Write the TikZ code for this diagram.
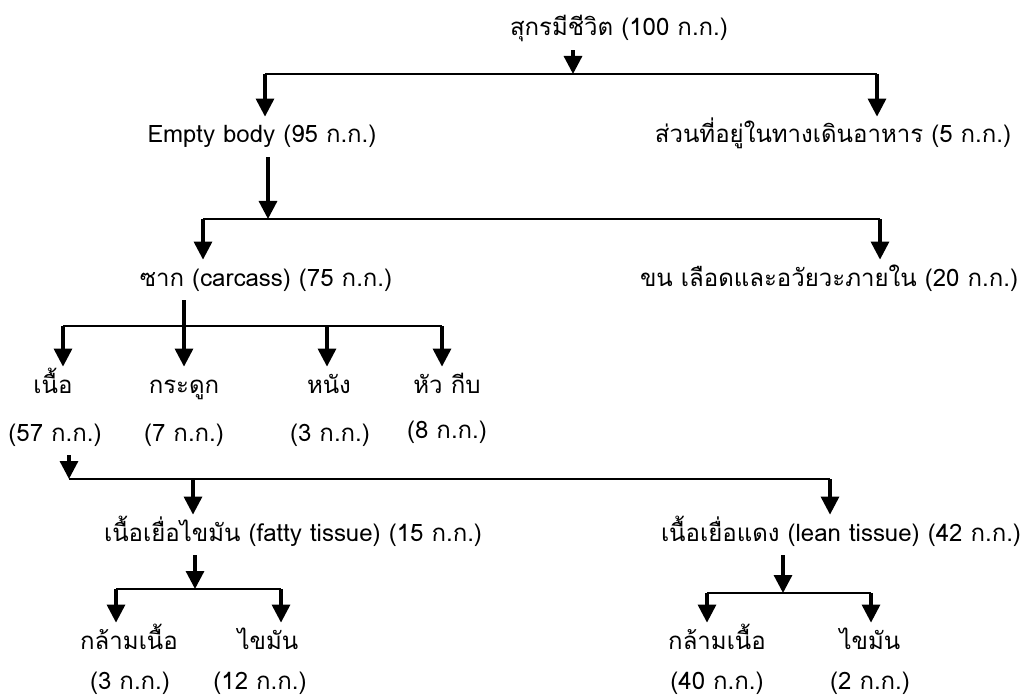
\documentclass[tikz,border=0pt]{standalone}
\usepackage{fontspec}
\setmainfont[Script=Thai]{Loma}
\usetikzlibrary{arrows.meta}
\tikzset{lbl/.style = {inner xsep = 0, inner ysep = 3pt, text height = 10pt, text depth = 4pt, font = \fontsize{12}{14}\selectfont},
  bar/.style = {line width = 1.2pt},
  arr/.style = {line width = 1.6pt, -{Triangle[width = 9pt, length = 9pt]}}}

\begin{document}
\begin{tikzpicture}[x=0.5pt, y=-0.5pt]
    \useasboundingbox (0, 0) rectangle (1021, 700);

    % live pig
    \node [lbl] (live) at (619, 30) {สุกรมีชีวิต (100 ก.ก.)};
    \node [lbl] (empty) at (262, 137) {Empty body (95 ก.ก.)};
    \node [lbl] (gut) at (833, 137) {ส่วนที่อยู่ในทางเดินอาหาร (5 ก.ก.)};
    \coordinate (j1) at (573, 74);
    \coordinate (j1l) at (265, 74);
    \coordinate (j1r) at (877, 74);
    \draw [arr] (live.south -| j1) -- (j1);
    \draw [bar] (j1l) -- (j1r);
    \draw [arr] (j1l) -- (empty.north -| j1l);
    \draw [arr] (j1r) -- (gut.north -| j1r);

    % empty body
    \node [lbl] (carcass) at (266, 280) {ซาก (carcass) (75 ก.ก.)};
    \node [lbl] (organs) at (829, 280) {ขน เลือดและอวัยวะภายใน (20 ก.ก.)};
    \coordinate (j2) at (268, 219);
    \coordinate (j2l) at (203, 219);
    \coordinate (j2r) at (880, 219);
    \draw [arr] (empty.south -| j2) -- (j2);
    \draw [bar] (j2l) -- (j2r);
    \draw [arr] (j2l) -- (carcass.north -| j2l);
    \draw [arr] (j2r) -- (organs.north -| j2r);

    % carcass
    \node [lbl] (meat) at (53, 387) {เนื้อ};
    \node [lbl] (bone) at (184, 387) {กระดูก};
    \node [lbl] (skin) at (329, 387) {หนัง};
    \node [lbl] (head) at (447, 387) {หัว กีบ};
    \node [lbl] (meatkg) at (55, 435) {(57 ก.ก.)};
    \node [lbl] (bonekg) at (184, 435) {(7 ก.ก.)};
    \node [lbl] (skinkg) at (330, 435) {(3 ก.ก.)};
    \node [lbl] (headkg) at (447, 432) {(8 ก.ก.)};
    \coordinate (j3) at (184, 326);
    \coordinate (j3l) at (63, 326);
    \coordinate (j3c) at (327, 326);
    \coordinate (j3r) at (442, 326);
    \draw [bar] (j3l) -- (j3r);
    \draw [arr] (carcass.south -| j3) -- (bone.north -| j3);
    \draw [arr] (j3l) -- (meat.north -| j3l);
    \draw [arr] (j3c) -- (skin.north -| j3c);
    \draw [arr] (j3r) -- (head.north -| j3r);

    % meat
    \node [lbl] (fat) at (293, 535) {เนื้อเยื่อไขมัน (fatty tissue) (15 ก.ก.)};
    \node [lbl] (lean) at (841, 535) {เนื้อเยื่อแดง (lean tissue) (42 ก.ก.)};
    \coordinate (j4l) at (69, 479);
    \coordinate (j4f) at (193, 479);
    \coordinate (j4r) at (830, 479);
    \draw [arr] (meatkg.south -| j4l) -- (j4l);
    \draw [bar] (j4l) -- (j4r);
    \draw [arr] (j4f) -- (fat.north -| j4f);
    \draw [arr] (j4r) -- (lean.north -| j4r);

    % fatty tissue
    \node [lbl] (fmus) at (129, 643) {กล้ามเนื้อ};
    \node [lbl] (ffat) at (268, 643) {ไขมัน};
    \node [lbl] (fmuskg) at (130, 683) {(3 ก.ก.)};
    \node [lbl] (ffatkg) at (260, 683) {(12 ก.ก.)};
    \coordinate (j5) at (195, 589);
    \coordinate (j5l) at (116, 589);
    \coordinate (j5r) at (281, 589);
    \draw [arr] (fat.south -| j5) -- (j5);
    \draw [bar] (j5l) -- (j5r);
    \draw [arr] (j5l) -- (fmus.north -| j5l);
    \draw [arr] (j5r) -- (ffat.north -| j5r);

    % lean tissue
    \node [lbl] (lmus) at (717, 643) {กล้ามเนื้อ};
    \node [lbl] (lfat) at (870, 643) {ไขมัน};
    \node [lbl] (lmuskg) at (717, 683) {(40 ก.ก.)};
    \node [lbl] (lfatkg) at (870, 683) {(2 ก.ก.)};
    \coordinate (j6) at (783, 593);
    \coordinate (j6l) at (707, 593);
    \coordinate (j6r) at (871, 593);
    \draw [arr] (lean.south -| j6) -- (j6);
    \draw [bar] (j6l) -- (j6r);
    \draw [arr] (j6l) -- (lmus.north -| j6l);
    \draw [arr] (j6r) -- (lfat.north -| j6r);
\end{tikzpicture}
\end{document}
